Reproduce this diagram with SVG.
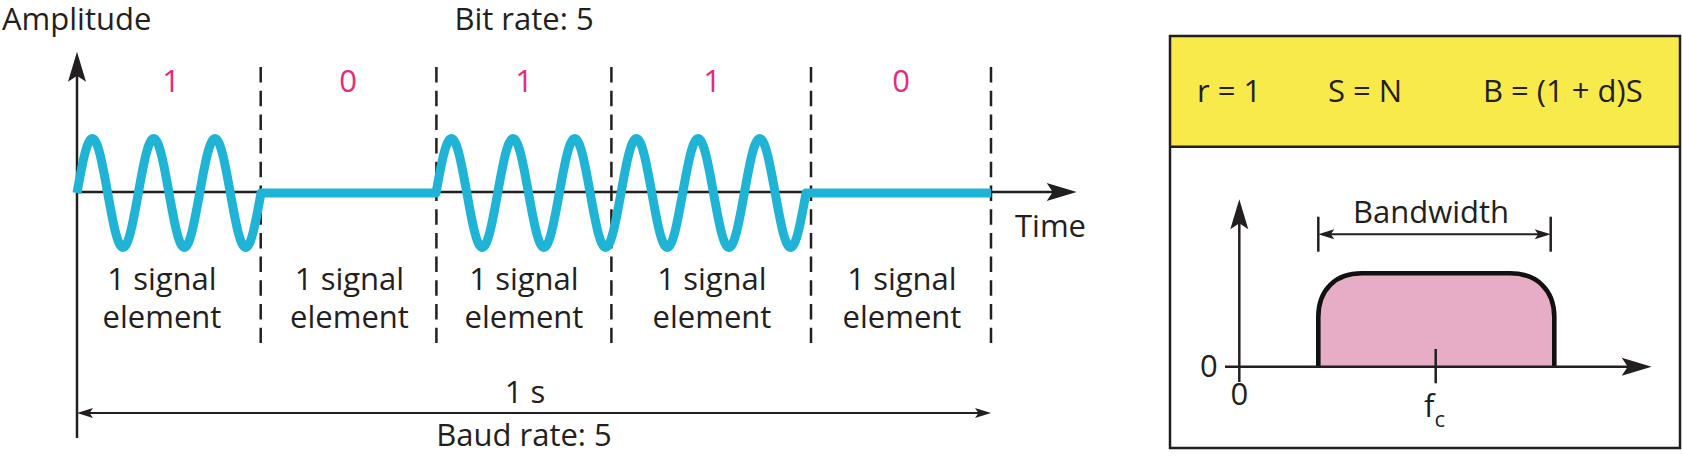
<svg xmlns="http://www.w3.org/2000/svg" width="1682" height="458" viewBox="0 0 1682 458">
<style>
text{font-family:"Open Sans","Noto Sans",sans-serif;font-size:31px;fill:#231f20}
.bit{fill:#e52b7b}
.mid{text-anchor:middle}
.ax{stroke:#231f20;stroke-width:2.5;fill:none}
.thin{stroke:#231f20;stroke-width:2;fill:none}
.dash{stroke:#231f20;stroke-width:2.5;stroke-dasharray:15.5 8.2;fill:none}
.wave{stroke:#1fb3d5;stroke-width:9;fill:none;stroke-linejoin:round}
</style>
<defs>
<marker id="big" markerUnits="userSpaceOnUse" viewBox="-31 -10 32 20" markerWidth="32" markerHeight="20" refX="-6" refY="0" orient="auto">
<path d="M0,0 L-30,-9 L-24,0 L-30,9 Z" fill="#231f20"/>
</marker>
<marker id="sm" markerUnits="userSpaceOnUse" viewBox="-17 -6 18 12" markerWidth="18" markerHeight="12" refX="-4" refY="0" orient="auto-start-reverse">
<path d="M0,0 L-16,-5 L-12.5,0 L-16,5 Z" fill="#231f20"/>
</marker>
</defs>
<rect width="1682" height="458" fill="#fff"/>

<g id="left-chart">
<g id="axes">
<line class="ax" x1="77" y1="438" x2="77" y2="57.7" marker-end="url(#big)"/>
<line class="ax" x1="77" y1="192" x2="1070.7" y2="192" marker-end="url(#big)"/>
</g>
<g id="dividers">
<line class="dash" x1="260.7" y1="67" x2="260.7" y2="343"/>
<line class="dash" x1="436.4" y1="67" x2="436.4" y2="343"/>
<line class="dash" x1="611.4" y1="67" x2="611.4" y2="343"/>
<line class="dash" x1="811" y1="67" x2="811" y2="343"/>
<line class="dash" x1="991" y1="67" x2="991" y2="343"/>
</g>
<path id="signal" class="wave" d="M77,193
c5,-27.92 9.784,-54.5 15.333,-54.5 c5.549,0 10.333,26.58 15.333,54.5 c5,27.92 9.784,54.5 15.333,54.5 c5.549,0 10.333,-26.58 15.333,-54.5
c5,-27.92 9.784,-54.5 15.333,-54.5 c5.549,0 10.333,26.58 15.333,54.5 c5,27.92 9.784,54.5 15.333,54.5 c5.549,0 10.333,-26.58 15.333,-54.5
c5,-27.92 9.784,-54.5 15.333,-54.5 c5.549,0 10.333,26.58 15.333,54.5 c5,27.92 9.784,54.5 15.333,54.5 c5.549,0 10.333,-26.58 15.333,-54.5
L436,193
c5.027,-27.92 9.837,-54.5 15.417,-54.5 c5.579,0 10.389,26.58 15.417,54.5 c5.027,27.92 9.837,54.5 15.417,54.5 c5.579,0 10.389,-26.58 15.417,-54.5
c5.027,-27.92 9.837,-54.5 15.417,-54.5 c5.579,0 10.389,26.58 15.417,54.5 c5.027,27.92 9.837,54.5 15.417,54.5 c5.579,0 10.389,-26.58 15.417,-54.5
c5.027,-27.92 9.837,-54.5 15.417,-54.5 c5.579,0 10.389,26.58 15.417,54.5 c5.027,27.92 9.837,54.5 15.417,54.5 c5.579,0 10.389,-26.58 15.417,-54.5
c5.027,-27.92 9.837,-54.5 15.417,-54.5 c5.579,0 10.389,26.58 15.417,54.5 c5.027,27.92 9.837,54.5 15.417,54.5 c5.579,0 10.389,-26.58 15.417,-54.5
c5.027,-27.92 9.837,-54.5 15.417,-54.5 c5.579,0 10.389,26.58 15.417,54.5 c5.027,27.92 9.837,54.5 15.417,54.5 c5.579,0 10.389,-26.58 15.417,-54.5
c5.027,-27.92 9.837,-54.5 15.417,-54.5 c5.579,0 10.389,26.58 15.417,54.5 c5.027,27.92 9.837,54.5 15.417,54.5 c5.579,0 10.389,-26.58 15.417,-54.5
L991,193"/>
<g id="duration">
<line class="thin" x1="81" y1="413" x2="987" y2="413" marker-start="url(#sm)" marker-end="url(#sm)"/>
</g>
<g id="labels-left">
<text x="2" y="30">Amplitude</text>
<text class="mid" x="524" y="30">Bit rate: 5</text>
<text class="bit mid" x="171" y="92">1</text>
<text class="bit mid" x="348" y="92">0</text>
<text class="bit mid" x="524" y="92">1</text>
<text class="bit mid" x="712" y="92">1</text>
<text class="bit mid" x="901" y="92">0</text>
<text class="mid" x="162" y="290">1 signal</text>
<text class="mid" x="162" y="328">element</text>
<text class="mid" x="349.5" y="290">1 signal</text>
<text class="mid" x="349.5" y="328">element</text>
<text class="mid" x="524" y="290">1 signal</text>
<text class="mid" x="524" y="328">element</text>
<text class="mid" x="712" y="290">1 signal</text>
<text class="mid" x="712" y="328">element</text>
<text class="mid" x="902" y="290">1 signal</text>
<text class="mid" x="902" y="328">element</text>
<text x="1015" y="237">Time</text>
<text class="mid" x="525" y="403">1 s</text>
<text class="mid" x="524" y="446">Baud rate: 5</text>
</g>
</g>

<g id="right-panel">
<g id="header">
<rect x="1170" y="36" width="510" height="110.7" fill="#f9ea4c"/>
<text x="1197" y="102">r = 1</text>
<text x="1328" y="102">S = N</text>
<text x="1483" y="102">B = (1 + d)S</text>
</g>
<g id="spectrum">
<path d="M1318.3,366.7 V317 C1318.3,290 1335,273.3 1362,273.3 H1510 C1537,273.3 1554.3,290 1554.3,317 V366.7 Z" fill="#e8adc6"/>
<path d="M1318.3,366.7 V317 C1318.3,290 1335,273.3 1362,273.3 H1510 C1537,273.3 1554.3,290 1554.3,317 V366.7" fill="none" stroke="#111" stroke-width="4.6"/>
<line class="ax" x1="1239.3" y1="382" x2="1239.3" y2="205.3" marker-end="url(#big)"/>
<line class="ax" x1="1225" y1="366.7" x2="1645.7" y2="366.7" marker-end="url(#big)"/>
<line class="ax" x1="1435.7" y1="349" x2="1435.7" y2="383.3"/>
<text x="1200" y="377">0</text>
<text class="mid" x="1239.3" y="405">0</text>
<text x="1424" y="417">f<tspan font-size="22" dy="10">c</tspan></text>
</g>
<g id="bandwidth">
<line class="ax" x1="1318.3" y1="216.7" x2="1318.3" y2="251.7"/>
<line class="ax" x1="1550.7" y1="216.7" x2="1550.7" y2="251.7"/>
<line class="thin" x1="1322.3" y1="234.3" x2="1546.7" y2="234.3" marker-start="url(#sm)" marker-end="url(#sm)"/>
<text x="1353" y="223">Bandwidth</text>
</g>
<rect x="1170" y="36" width="510" height="412" fill="none" stroke="#231f20" stroke-width="2.5"/>
<line class="ax" x1="1170" y1="146.7" x2="1680" y2="146.7"/>
</g>
</svg>
